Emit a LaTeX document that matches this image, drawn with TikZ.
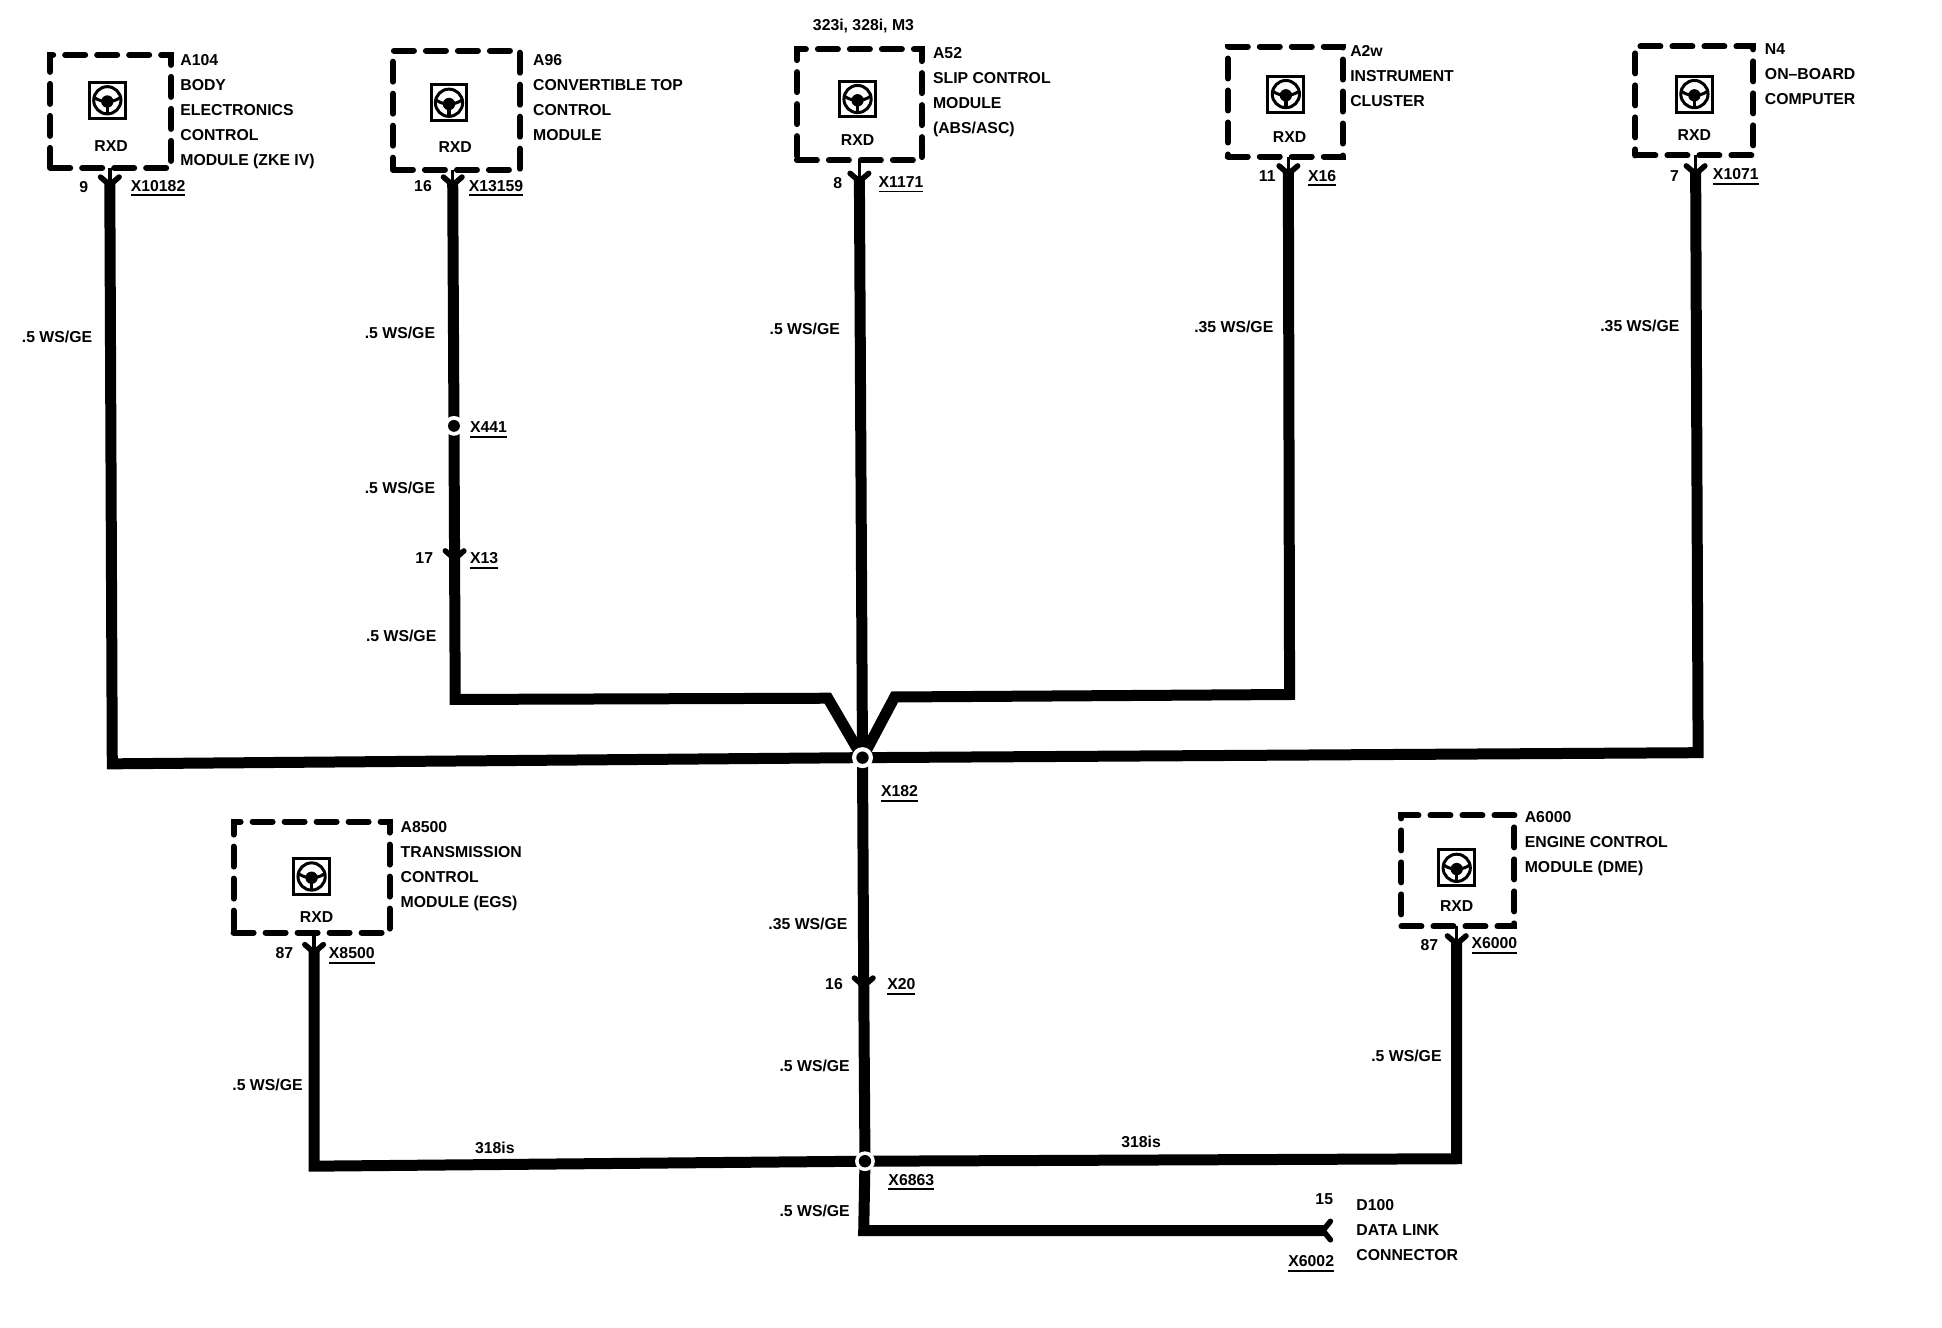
\documentclass[tikz,border=0pt]{standalone}
\usepackage{fontspec}
\setmainfont{Liberation Sans}
\newsavebox\ulsave
\newcommand\ulbl[1]{\sbox\ulsave{#1}\smash{\rlap{\rule[-5pt]{\wd\ulsave}{1.8pt}}}\usebox\ulsave}
\newcommand\chevron[1]{\draw[chevline] ([shift={(-7.5,-5)}]#1) -- ([shift={(0,1.5)}]#1) -- ([shift={(7.5,-5)}]#1);}
\begin{document}
\begin{tikzpicture}[x=1.238pt,y=-1.238pt,
  lbl/.style={font=\fontsize{15.8}{25}\bfseries\selectfont,inner sep=0pt,outer sep=0pt,text=black},
  blocklbl/.style={lbl,anchor=north west,align=left},
  pinlbl/.style={lbl,anchor=center},
  conlbl/.style={lbl,anchor=west},
  wirelbl/.style={lbl,anchor=west},
  modbox/.style={draw=black,line width=6pt,dash pattern=on 20pt off 12pt,inner sep=0pt,outer sep=0pt,line cap=round},
  wire/.style={line width=11pt,draw=black,line join=miter},
  stem/.style={line width=3.5pt,draw=black},
  chevline/.style={line width=5.5pt,draw=black,line cap=round,line join=miter},
  icon/.pic={
    \draw[line width=3pt] (-14.5,-14.5) rectangle (14.5,14.5);
    \draw[line width=3pt] (0,0) circle (11);
    \fill (0,1) circle (5);
    \draw[line width=3pt] (-10,-2) .. controls (-5,2) and (5,2) .. (10,-2);
    \draw[line width=3.5pt] (0,1) -- (0,10);
  }]
\useasboundingbox (-0.7,-1) rectangle (1568,1071.7);
% modules
\node[modbox,minimum width=121pt,minimum height=113pt] (a104) at (88.7,89) {};
\node[modbox,minimum width=127pt,minimum height=119pt] (a96) at (368,88) {};
\node[modbox,minimum width=125pt,minimum height=111pt] (a52) at (693.5,83.5) {};
\node[modbox,minimum width=115pt,minimum height=110pt] (a2w) at (1037.5,81) {};
\node[modbox,minimum width=118pt,minimum height=109pt] (n4) at (1368,80.5) {};
\node[modbox,minimum width=156pt,minimum height=111pt] (a8500) at (251,707.5) {};
\node[modbox,minimum width=113pt,minimum height=111pt] (a6000) at (1177,702.5) {};
% icons
\pic at (86,80) {icon};
\pic at (362,82) {icon};
\pic at (692,79) {icon};
\pic at (1038,75) {icon};
\pic at (1368,75) {icon};
\pic at (251,707) {icon};
\pic at (1176,700) {icon};
% connection points
\coordinate (c1) at (88,147);
\coordinate (c2) at (365,147);
\coordinate (c3) at (693.5,144);
\coordinate (c4) at (1040,138);
\coordinate (c5) at (1369,138);
\coordinate (c8) at (253,767);
\coordinate (c9) at (1176,760);
\coordinate (x13) at (366.5,449);
\coordinate (x20) at (697,794);
\coordinate (x441) at (366,343);
\coordinate (x182) at (696,611);
\coordinate (x6863) at (698,937);
\coordinate (d100) at (1069,993);
% wires
\draw[wire] (c1) -- (90,616) -- (x182);
\draw[wire] (c2) -- (x441) -- (x13) -- (367,564) -- (668,563) -- (x182);
\draw[wire] (c3) -- (x182);
\draw[wire] (c4) -- (1041,560) -- (722,562) -- (x182);
\draw[wire] (c5) -- (1371,607) -- (x182);
\draw[wire] (x182) -- (x20) -- (x6863);
\draw[wire] (c8) -- (253,941) -- (x6863);
\draw[wire] (c9) -- (1176,935) -- (x6863);
\draw[wire] (x6863) -- (697,993) -- (d100);
% stems
\draw[stem] (a104.south -| c1) -- (c1);
\draw[stem] (a96.south -| c2) -- (c2);
\draw[stem] (a52.south -| c3) -- (c3);
\draw[stem] (a2w.south -| c4) -- (c4);
\draw[stem] (n4.south -| c5) -- (c5);
\draw[stem] (a8500.south -| c8) -- (c8);
\draw[stem] (a6000.south -| c9) -- (c9);
% chevrons
\chevron{c1}\chevron{c2}\chevron{c3}\chevron{c4}\chevron{c5}\chevron{c8}\chevron{c9}\chevron{x13}\chevron{x20}
\draw[chevline] ([shift={(5,-7.5)}]d100) -- ([shift={(-1,0)}]d100) -- ([shift={(5,7.5)}]d100);
% junctions
\fill[white] (x182) circle (8.5);
\fill[black] (x182) circle (5);
\fill[white] (x6863) circle (8);
\fill[black] (x6863) circle (5);
\fill[white] (x441) circle (8);
\fill[black] (x441) circle (4.8);
% block labels
\node[blocklbl] (t1) at (145,42.6) {A104\\BODY\\ELECTRONICS\\CONTROL\\MODULE (ZKE IV)};
\node[blocklbl] (t2) at (430,42.6) {A96\\CONVERTIBLE TOP\\CONTROL\\MODULE};
\node[blocklbl] (t3) at (753,37.6) {A52\\SLIP CONTROL\\MODULE\\(ABS/ASC)};
\node[blocklbl] (t4) at (1090,35.6) {A2w\\INSTRUMENT\\CLUSTER};
\node[blocklbl] (t5) at (1425,34.6) {N4\\ON--BOARD\\COMPUTER};
\node[blocklbl] (t6) at (323,662.6) {A8500\\TRANSMISSION\\CONTROL\\MODULE (EGS)};
\node[blocklbl] (t7) at (1231,654.6) {A6000\\ENGINE CONTROL\\MODULE (DME)};
\node[blocklbl] (t8) at (1095,967.6) {D100\\DATA LINK\\CONNECTOR};
\node[conlbl] (t9) at (656,20) {323i, 328i, M3};
% RXD
\node[pinlbl] (r1) at (89,117) {RXD};
\node[pinlbl] (r2) at (367,118) {RXD};
\node[pinlbl] (r3) at (692,112) {RXD};
\node[pinlbl] (r4) at (1041,110) {RXD};
\node[pinlbl] (r5) at (1368,108) {RXD};
\node[pinlbl] (r6) at (255,740) {RXD};
\node[pinlbl] (r7) at (1176,731) {RXD};
% pins
\node[pinlbl] (p1) at (67,150) {9};
\node[pinlbl] (p2) at (341,149) {16};
\node[pinlbl] (p3) at (676,147) {8};
\node[pinlbl] (p4) at (1023,141) {11};
\node[pinlbl] (p5) at (1352,141) {7};
\node[pinlbl] (p6) at (342,450) {17};
\node[pinlbl] (p7) at (229,769) {87};
\node[pinlbl] (p8) at (1154,762) {87};
\node[pinlbl] (p9) at (673,794) {16};
\node[pinlbl] (p10) at (1069,968) {15};
% connector names
\node[conlbl] (n1) at (105,149) {\ulbl{X10182}};
\node[conlbl] (n2) at (378,149) {\ulbl{X13159}};
\node[conlbl] (n3) at (709,146) {\ulbl{X1171}};
\node[conlbl] (n4l) at (1056,141) {\ulbl{X16}};
\node[conlbl] (n5) at (1383,140) {\ulbl{X1071}};
\node[conlbl] (n6) at (379,344) {\ulbl{X441}};
\node[conlbl] (n7) at (379,450) {\ulbl{X13}};
\node[conlbl] (n8) at (711,638) {\ulbl{X182}};
\node[conlbl] (n9) at (265,769) {\ulbl{X8500}};
\node[conlbl] (n10) at (1188,761) {\ulbl{X6000}};
\node[conlbl] (n11) at (716,794) {\ulbl{X20}};
\node[conlbl] (n12) at (717,952) {\ulbl{X6863}};
\node[conlbl] (n13) at (1040,1018) {\ulbl{X6002}};
% wire labels
\node[wirelbl] (w1) at (17,271) {.5 WS/GE};
\node[wirelbl] (w2) at (294,268) {.5 WS/GE};
\node[wirelbl] (w3) at (294,393) {.5 WS/GE};
\node[wirelbl] (w4) at (295,513) {.5 WS/GE};
\node[wirelbl] (w5) at (621,265) {.5 WS/GE};
\node[wirelbl] (w6) at (964,263) {.35 WS/GE};
\node[wirelbl] (w7) at (1292,262) {.35 WS/GE};
\node[wirelbl] (w8) at (620,745) {.35 WS/GE};
\node[wirelbl] (w9) at (187,875) {.5 WS/GE};
\node[wirelbl] (w10) at (629,860) {.5 WS/GE};
\node[wirelbl] (w11) at (1107,852) {.5 WS/GE};
\node[wirelbl] (w12) at (629,977) {.5 WS/GE};
\node[pinlbl] (s1) at (399,926) {318is};
\node[pinlbl] (s2) at (921,921) {318is};
\end{tikzpicture}
\end{document}
